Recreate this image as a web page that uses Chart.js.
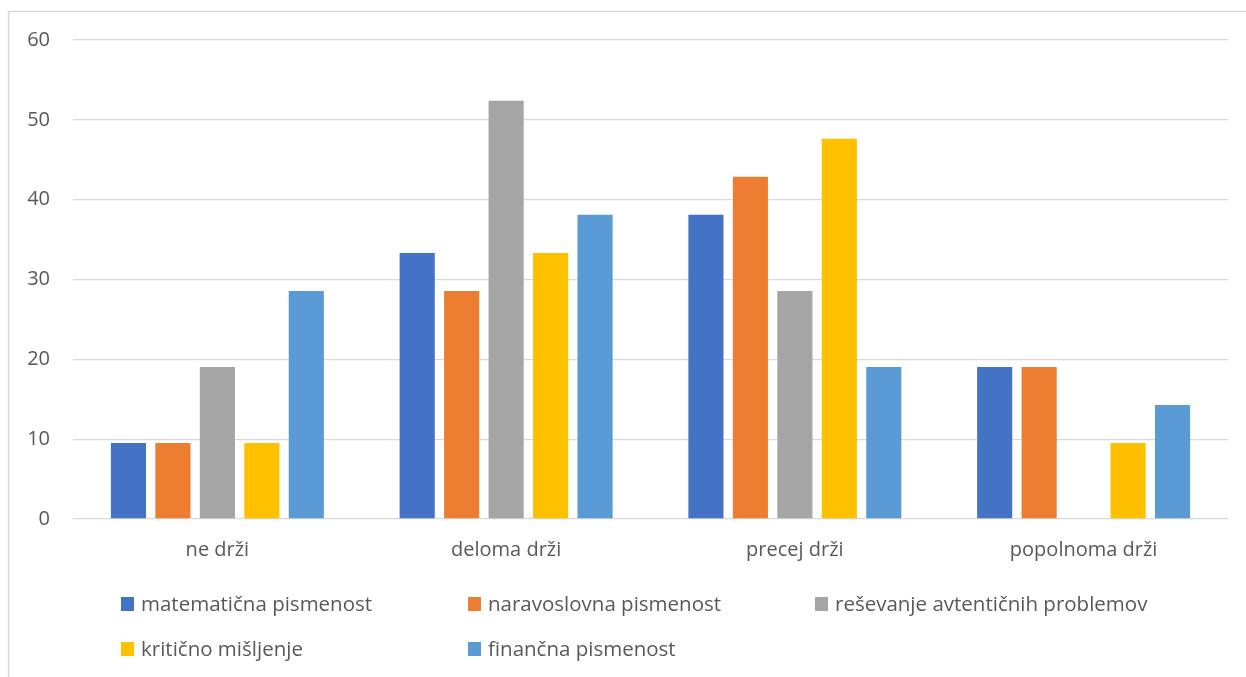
<!DOCTYPE html>
<html>
<head>
<meta charset="utf-8">
<script src="https://cdn.jsdelivr.net/npm/chart.js@4"></script>
<style>
  html, body { margin: 0; padding: 0; background: #fff; }
  #wrap { position: relative; width: 1246px; height: 677px; }
</style>
</head>
<body>
<div id="wrap"><canvas id="c" width="1246" height="677"></canvas></div>
<script>
// Response categories (x axis)
const categories = ['ne drži', 'deloma drži', 'precej drži', 'popolnoma drži'];

// Series names
const seriesNames = [
  'matematična pismenost',
  'naravoslovna pismenost',
  'reševanje avtentičnih problemov',
  'kritično mišljenje',
  'finančna pismenost'
];

// Shares in percent for each series, one value per category
const matematicna  = [9.52, 33.33, 38.10, 19.05];
const naravoslovna = [9.52, 28.57, 42.86, 19.05];
const resevanje    = [19.05, 52.38, 28.57, 0];
const kriticno     = [9.52, 33.33, 47.62, 9.52];
const financna     = [28.57, 38.10, 19.05, 14.29];

// Y axis ticks
const yTicks = [0, 10, 20, 30, 40, 50, 60];

const seriesValues = [matematicna, naravoslovna, resevanje, kriticno, financna];
const seriesColors = ['#4472C4', '#ED7D31', '#A5A5A5', '#FFC000', '#5B9BD5'];

const FONT = '"Open Sans", "Liberation Sans", sans-serif';
const TEXT = '#595959';
const GRID = '#D9D9D9';

// Outer frame of the chart object (left and top edges)
const framePlugin = {
  id: 'frame',
  beforeDraw(chart) {
    const ctx = chart.ctx;
    ctx.save();
    ctx.strokeStyle = GRID;
    ctx.lineWidth = 1.5;
    ctx.beginPath();
    ctx.moveTo(8.5, chart.height);
    ctx.lineTo(8.5, 11.5);
    ctx.lineTo(chart.width, 11.5);
    ctx.stroke();
    ctx.restore();
  }
};

// Legend laid out in a two-row grid under the axis
const gridLegend = {
  id: 'gridLegend',
  afterDraw(chart) {
    const ctx = chart.ctx;
    const cols = [121, 468, 815];
    const rows = [604, 649];
    ctx.save();
    ctx.font = '20.5px ' + FONT;
    ctx.textBaseline = 'middle';
    ctx.textAlign = 'left';
    chart.data.datasets.forEach((ds, i) => {
      const x = cols[i % 3];
      const y = rows[Math.floor(i / 3)];
      ctx.fillStyle = ds.backgroundColor;
      ctx.fillRect(x, y - 7, 13, 14);
      ctx.fillStyle = TEXT;
      ctx.fillText(ds.label, x + 20, y + 1);
    });
    ctx.restore();
  }
};

new Chart(document.getElementById('c'), {
  type: 'bar',
  data: {
    labels: categories,
    datasets: seriesNames.map((name, i) => ({
      label: name,
      data: seriesValues[i],
      backgroundColor: seriesColors[i],
      borderWidth: 0,
      categoryPercentage: 0.77,
      barPercentage: 0.79
    }))
  },
  options: {
    responsive: false,
    animation: false,
    layout: { padding: { top: 40, right: 18, left: 0, bottom: 0 } },
    plugins: {
      legend: { display: false },
      tooltip: { enabled: false },
      title: { display: false }
    },
    scales: {
      x: {
        grid: { display: false, drawTicks: false },
        border: { display: false },
        ticks: { color: TEXT, font: { family: FONT, size: 20 }, padding: 19 },
        afterFit(scale) { scale.height = 158; }
      },
      y: {
        min: 0,
        max: 60,
        afterBuildTicks(scale) { scale.ticks = yTicks.map(v => ({ value: v })); },
        grid: { color: GRID, lineWidth: 1.3, drawTicks: false },
        border: { display: false },
        ticks: { color: TEXT, font: { family: FONT, size: 20 }, padding: 23 },
        afterFit(scale) { scale.width = 73; }
      }
    }
  },
  plugins: [framePlugin, gridLegend]
});
</script>
</body>
</html>
